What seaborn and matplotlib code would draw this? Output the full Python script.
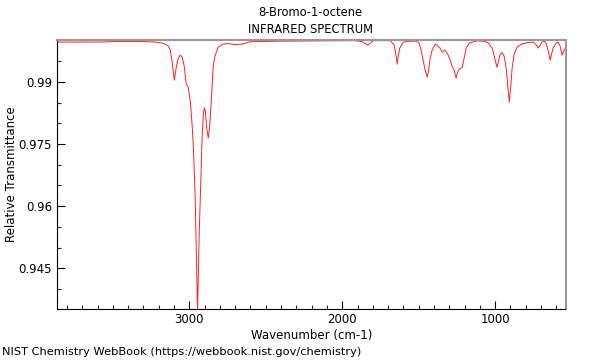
import pandas as pd
import seaborn as sns
import numpy as np
import matplotlib
matplotlib.use('Agg')
import matplotlib.pyplot as plt
from matplotlib.ticker import MultipleLocator, FuncFormatter

# spectrum
wavenumber = [3863, 3712, 3582, 3471, 3320, 3222, 3176, 3150, 3137, 3124,
              3111, 3098, 3085, 3072, 3059, 3046, 3033, 3020, 3007, 2993,
              2980, 2971, 2961, 2950, 2946, 2935, 2922, 2915, 2908, 2902,
              2895, 2886, 2876, 2866, 2856, 2843, 2830, 2810, 2784, 2745,
              2699, 2654, 2601, 2405, 2144, 1915, 1869, 1832, 1797, 1686,
              1660, 1647, 1641, 1634, 1624, 1601, 1556, 1516, 1497, 1484,
              1471, 1458, 1444, 1435, 1425, 1412, 1392, 1373, 1360, 1346,
              1327, 1307, 1294, 1281, 1268, 1255, 1245, 1235, 1216, 1203,
              1189, 1170, 1118, 1078, 1046, 1020, 1007, 997, 987, 977,
              967, 954, 941, 928, 918, 908, 899, 889, 876, 856,
              830, 791, 752, 732, 719, 706, 693, 680, 667, 654,
              640, 631, 621, 601, 588, 575, 562, 549, 539]
transmittance = [0.99957, 0.99960, 0.99960, 0.99974, 0.99974, 0.99960, 0.99933, 0.99900, 0.99860, 0.99764,
                 0.99451, 0.99041, 0.99354, 0.99571, 0.99643, 0.99595, 0.99378, 0.98945, 0.98872, 0.98511,
                 0.97884, 0.97233, 0.96149, 0.94149, 0.93450, 0.95354, 0.96944, 0.97764, 0.98197, 0.98366,
                 0.98294, 0.97884, 0.97643, 0.97957, 0.98559, 0.99402, 0.99643, 0.99836, 0.99909, 0.99921,
                 0.99897, 0.99909, 0.99969, 0.99981, 0.99988, 0.99993, 0.99969, 0.99884, 0.99993, 0.99993,
                 0.99884, 0.99619, 0.99427, 0.99619, 0.99812, 0.99957, 0.99981, 0.99981, 0.99933, 0.99764,
                 0.99523, 0.99282, 0.99113, 0.99282, 0.99571, 0.99764, 0.99909, 0.99860, 0.99812, 0.99716,
                 0.99764, 0.99643, 0.99523, 0.99378, 0.99282, 0.99089, 0.99234, 0.99306, 0.99342, 0.99571,
                 0.99812, 0.99933, 0.99988, 0.99981, 0.99945, 0.99812, 0.99643, 0.99475, 0.99354, 0.99523,
                 0.99668, 0.99704, 0.99619, 0.99330, 0.98920, 0.98511, 0.98848, 0.99330, 0.99668, 0.99836,
                 0.99909, 0.99945, 0.99957, 0.99897, 0.99812, 0.99884, 0.99957, 0.99981, 0.99933, 0.99764,
                 0.99523, 0.99668, 0.99812, 0.99933, 0.99957, 0.99860, 0.99643, 0.99764, 0.99812]

title = '8-Bromo-1-octene'
subtitle = 'INFRARED SPECTRUM'
source = 'NIST Chemistry WebBook (https://webbook.nist.gov/chemistry)'

df = pd.DataFrame({'Wavenumber': wavenumber, 'Transmittance': transmittance})

sns.set_style('ticks')
plt.rcParams['font.family'] = ['DejaVu Sans']
plt.rcParams['font.size'] = 8
plt.rcParams['text.color'] = 'black'
plt.rcParams['axes.labelcolor'] = 'black'

fig = plt.figure(figsize=(6, 3.6), dpi=100)
ax = fig.add_axes([0.095, 0.143, 0.8475, 0.746])

sns.lineplot(data=df, x='Wavenumber', y='Transmittance', color='#ff2020',
             linewidth=0.7, ax=ax, sort=False)

ax.set_xlim(3865, 540)
ax.set_ylim(0.9353, 1.0001)
ax.xaxis.set_major_locator(MultipleLocator(1000))
ax.xaxis.set_minor_locator(MultipleLocator(100))
ax.yaxis.set_major_locator(MultipleLocator(0.015))
ax.yaxis.set_minor_locator(MultipleLocator(0.005))
ax.yaxis.set_major_formatter(FuncFormatter(lambda v, p: f'{v:g}'))
ax.tick_params(which='major', direction='in', length=6, width=0.8, labelsize=8.5, colors='black')
ax.tick_params(which='minor', direction='in', length=3, width=0.8)

for s in ['top', 'right']:
    ax.spines[s].set_color('#999999')
    ax.spines[s].set_linewidth(1.5)
for s in ['left', 'bottom']:
    ax.spines[s].set_color('black')
    ax.spines[s].set_linewidth(0.8)

ax.set_xlabel('Wavenumber (cm-1)', fontsize=8.5, labelpad=2)
ax.set_ylabel('Relative Transmittance', fontsize=8.5, labelpad=0.5)

fig.text(0.518, 0.964, title, ha='center', va='center', fontsize=8.3)
fig.text(0.518, 0.917, subtitle, ha='center', va='center', fontsize=8.3)
fig.text(0.004, 0.022, source, ha='left', va='center', fontsize=8.2)

fig.savefig('out.png', dpi=100)
